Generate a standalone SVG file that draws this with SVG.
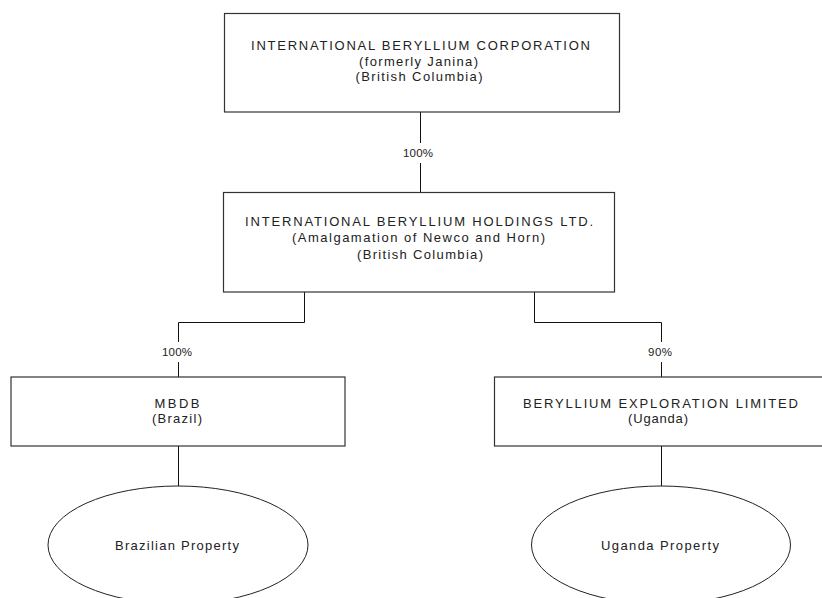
<svg xmlns="http://www.w3.org/2000/svg" width="822" height="598" viewBox="0 0 822 598">
<style>
.box{fill:#fff;stroke:#333;stroke-width:1.2}
.ell{fill:#fff;stroke:#222;stroke-width:1}
.ln{fill:none;stroke:#111;stroke-width:1}
text{font-family:"Liberation Sans",Arial,sans-serif;font-size:13px;fill:#222;text-anchor:middle}
.lbl{font-size:11.5px}
</style>
<rect width="822" height="598" fill="#fff"/>
<g id="connectors">
<path class="ln" d="M420.5,112 V143 M420.5,163 V192"/>
<path class="ln" d="M304.5,292 V322.5 H178.5 V342 M178.5,362 V377"/>
<path class="ln" d="M534.5,292 V322.5 H661.5 V342 M661.5,362 V377"/>
<path class="ln" d="M178.5,446 V486 M661.5,446 V486"/>
<text class="lbl" x="418" y="157" textLength="30" lengthAdjust="spacing">100%</text>
<text class="lbl" x="177" y="356" textLength="30" lengthAdjust="spacing">100%</text>
<text class="lbl" x="660" y="356" textLength="24" lengthAdjust="spacing">90%</text>
</g>
<g id="ibc">
<rect class="box" x="224.5" y="13.5" width="395" height="98.5"/>
<text x="420.5" y="50" textLength="339" lengthAdjust="spacing">INTERNATIONAL BERYLLIUM CORPORATION</text>
<text x="418.5" y="66" textLength="119" lengthAdjust="spacing">(formerly Janina)</text>
<text x="419" y="81" textLength="127" lengthAdjust="spacing">(British Columbia)</text>
</g>
<g id="ibh">
<rect class="box" x="223.5" y="192.5" width="391" height="99.5"/>
<text x="419" y="226" textLength="348" lengthAdjust="spacing">INTERNATIONAL BERYLLIUM HOLDINGS LTD.</text>
<text x="418.5" y="242" textLength="253" lengthAdjust="spacing">(Amalgamation of Newco and Horn)</text>
<text x="420" y="259" textLength="126" lengthAdjust="spacing">(British Columbia)</text>
</g>
<g id="mbdb">
<rect class="box" x="11" y="377" width="334" height="69"/>
<text x="177" y="408" textLength="45" lengthAdjust="spacing">MBDB</text>
<text x="177" y="423" textLength="50" lengthAdjust="spacing">(Brazil)</text>
</g>
<g id="bel">
<rect class="box" x="494.5" y="377" width="335" height="69"/>
<text x="660.5" y="408" textLength="275" lengthAdjust="spacing">BERYLLIUM EXPLORATION LIMITED</text>
<text x="658" y="423" textLength="60" lengthAdjust="spacing">(Uganda)</text>
</g>
<g id="brazil-property">
<ellipse class="ell" cx="178" cy="545" rx="130" ry="59"/>
<text x="177" y="550" textLength="124" lengthAdjust="spacing">Brazilian Property</text>
</g>
<g id="uganda-property">
<ellipse class="ell" cx="661" cy="545" rx="129.5" ry="59"/>
<text x="660" y="550" textLength="118" lengthAdjust="spacing">Uganda Property</text>
</g>
</svg>
